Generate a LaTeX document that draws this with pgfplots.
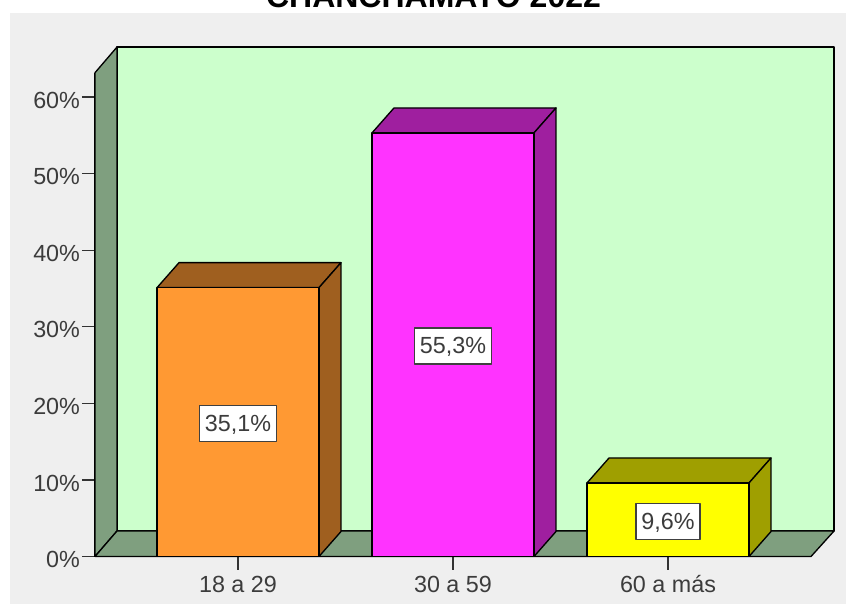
\documentclass[border=0pt]{standalone}
\usepackage{pgfplots}
\pgfplotsset{compat=1.18}
\usepackage{fontspec}
\setmainfont{Liberation Sans}
\definecolor{bgc}{HTML}{EFEFEF}
\definecolor{wall}{HTML}{CCFFCC}
\definecolor{floorc}{HTML}{7F9F7F}
\definecolor{orf}{HTML}{FF9933}
\definecolor{ort}{HTML}{9F5F1F}
\definecolor{maf}{HTML}{FF33FF}
\definecolor{mat}{HTML}{9F1F9F}
\definecolor{yef}{HTML}{FFFF00}
\definecolor{yet}{HTML}{9F9F00}
\definecolor{txt}{HTML}{3C3C3C}
\begin{document}
\begin{tikzpicture}[x=0.75pt,y=0.75pt]
\path[use as bounding box,clip] (0,0) rectangle (846,604);
\fill[white] (0,0) rectangle (846,604);
\fill[bgc] (10,0) rectangle (846,591);
\node[anchor=base,font=\fontsize{24}{24}\selectfont\bfseries,inner sep=0pt] at (433.5,596) {CHANCHAMAYO 2022};
\begin{axis}[
  at={(71.25pt,35.625pt)},anchor=south west,
  scale only axis,width=537pt,height=362.85pt,
  xmin=-0.6651,xmax=2.6651,ymin=0,ymax=63.16,
  clip=false,
  axis lines*=left,
  axis line style={-,black,line width=1pt},
  tick align=outside,
  major tick length=9.75pt,
  tick style={black!80,line width=0.9pt},
  xtick={0,1,2},
  xticklabels={18 a 29,30 a 59,60 a más},
  ytick={0,10,20,30,40,50,60},
  yticklabel={\pgfmathprintnumber{\tick}\%},
  /pgf/number format/assume math mode=true,
  tick label style={font=\fontsize{17.5}{18}\selectfont,text=txt},
  xticklabel style={text height=13pt,text depth=0pt,yshift=-0.5pt},
  yticklabel style={xshift=2pt,yshift=-2.4pt},
  every axis plot/.append style={line join=round},
  axis on top=false,
]
% back wall, left wall, floor
\addplot[fill=wall,draw=black,line width=1pt] coordinates {(-0.5628,3.33)(2.7721,3.33)(2.7721,66.51)(-0.5628,66.51)(-0.5628,3.33)};
\addplot[fill=floorc,draw=black,line width=1pt] coordinates {(-0.6651,0)(-0.5628,3.33)(-0.5628,66.51)(-0.6651,63.16)(-0.6651,0)};
\addplot[fill=floorc,draw=black,line width=1pt] coordinates {(-0.6651,0)(-0.5628,3.33)(2.7721,3.33)(2.6651,0)(-0.6651,0)};
% bar 1
\addplot[fill=ort,draw=black,line width=1pt] coordinates {(-0.3767,35.1)(-0.2744,38.36)(0.4790,38.36)(0.3767,35.1)(-0.3767,35.1)};
\addplot[fill=ort,draw=black,line width=1pt] coordinates {(0.3767,0)(0.4790,3.26)(0.4790,38.36)(0.3767,35.1)(0.3767,0)};
\addplot[ybar,bar width=0.7534,bar shift=0pt,fill=orf,draw=black,line width=1pt] coordinates {(0,35.1)};
% bar 2
\addplot[fill=mat,draw=black,line width=1pt] coordinates {(0.6233,55.3)(0.7256,58.56)(1.4790,58.56)(1.3767,55.3)(0.6233,55.3)};
\addplot[fill=mat,draw=black,line width=1pt] coordinates {(1.3767,0)(1.4790,3.26)(1.4790,58.56)(1.3767,55.3)(1.3767,0)};
\addplot[ybar,bar width=0.7534,bar shift=0pt,fill=maf,draw=black,line width=1pt] coordinates {(1,55.3)};
% bar 3
\addplot[fill=yet,draw=black,line width=1pt] coordinates {(1.6233,9.6)(1.7256,12.86)(2.4790,12.86)(2.3767,9.6)(1.6233,9.6)};
\addplot[fill=yet,draw=black,line width=1pt] coordinates {(2.3767,0)(2.4790,3.26)(2.4790,12.86)(2.3767,9.6)(2.3767,0)};
\addplot[ybar,bar width=0.7534,bar shift=0pt,fill=yef,draw=black,line width=1pt] coordinates {(2,9.6)};
% value labels
\addplot[draw=none,mark=none,point meta=explicit symbolic,nodes near coords,
  every node near coord/.append style={anchor=center,font=\fontsize{17.5}{18}\selectfont,text=txt,fill=white,draw=black!75,line width=1pt,inner xsep=4pt,inner ysep=6.5pt,text height=13pt,text depth=1pt}]
  coordinates {(0,17.4)[35,1\%] (1,27.5)[55,3\%] (2,4.6)[9,6\%]};
\end{axis}
\end{tikzpicture}
\end{document}
